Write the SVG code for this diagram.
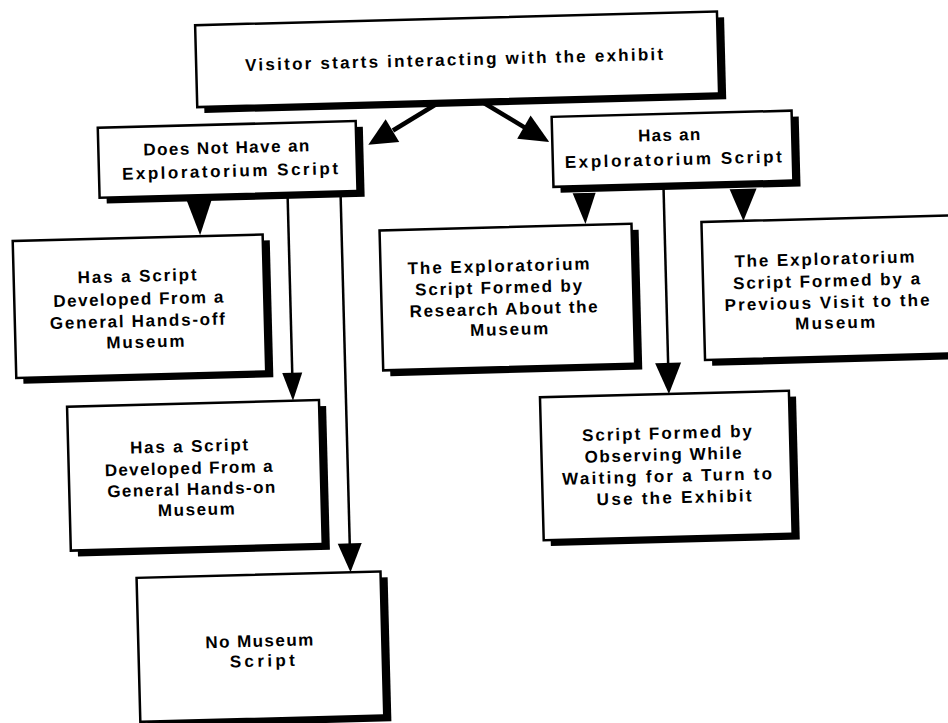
<svg xmlns="http://www.w3.org/2000/svg" width="948" height="723" viewBox="0 0 948 723">
<style>
.sh{fill:#000}
.bx{fill:#fff;stroke:#000;stroke-width:2.5}
.t{font-family:"Liberation Sans",Arial,sans-serif;font-weight:bold;font-size:17px;fill:#000}
.ln{stroke:#000;stroke-width:2.5;fill:none}
.dl{stroke-width:4.5}
.ah{fill:#000}
</style>
<rect x="0" y="0" width="948" height="723" fill="#fff"/>
<g transform="rotate(-1.5 474 361)">
<g id="connectors">
<line class="ln dl" x1="447" y1="101" x2="399" y2="128.5"/>
<polygon class="ah" points="374,142 392,117 405,140"/>
<line class="ln dl" x1="487" y1="101" x2="531" y2="129"/>
<polygon class="ah" points="555,144 523,140 537,117"/>
<polygon class="ah" points="191,193 216,193 203.5,228"/>
<line class="ln" x1="292" y1="190" x2="292" y2="370"/>
<polygon class="ah" points="282,368 302,368 292,396"/>
<line class="ln" x1="345" y1="190" x2="345" y2="542"/>
<polygon class="ah" points="333,540 357,540 345,569"/>
<polygon class="ah" points="577,196 600,196 589,227"/>
<line class="ln" x1="668" y1="191" x2="668" y2="370"/>
<polygon class="ah" points="655,368 681,368 668,399"/>
<polygon class="ah" points="734,196 761,196 747,228"/>
</g>
<g id="n-visitor">
<rect class="sh" x="211" y="24" width="522" height="82"/>
<rect class="bx" x="204" y="18" width="522" height="82"/>
<text class="t" x="253" y="65" textLength="418" lengthAdjust="spacing">Visitor starts interacting with the exhibit</text>
</g>
<g id="n-no-script">
<rect class="sh" x="111" y="124" width="258" height="70"/>
<rect class="bx" x="104" y="118" width="258" height="70"/>
<text class="t" x="149" y="147" textLength="166" lengthAdjust="spacing">Does Not Have an</text>
<text class="t" x="127" y="170.5" textLength="216" lengthAdjust="spacing">Exploratorium Script</text>
</g>
<g id="n-has-script">
<rect class="sh" x="565" y="125" width="240" height="70"/>
<rect class="bx" x="558" y="119" width="240" height="70"/>
<text class="t" x="644" y="146" textLength="62" lengthAdjust="spacing">Has an</text>
<text class="t" x="570" y="170.5" textLength="217" lengthAdjust="spacing">Exploratorium Script</text>
</g>
<g id="n-hands-off">
<rect class="sh" x="23" y="235" width="250" height="137"/>
<rect class="bx" x="16" y="229" width="250" height="137"/>
<text class="t" x="80" y="273" textLength="119" lengthAdjust="spacing">Has a Script</text>
<text class="t" x="55" y="296" textLength="170" lengthAdjust="spacing">Developed From a</text>
<text class="t" x="51" y="318" textLength="175" lengthAdjust="spacing">General Hands-off</text>
<text class="t" x="107" y="339" textLength="78" lengthAdjust="spacing">Museum</text>
</g>
<g id="n-hands-on">
<rect class="sh" x="73" y="402" width="252" height="144"/>
<rect class="bx" x="66" y="396" width="252" height="144"/>
<text class="t" x="128" y="444.5" textLength="118" lengthAdjust="spacing">Has a Script</text>
<text class="t" x="102" y="466.5" textLength="168" lengthAdjust="spacing">Developed From a</text>
<text class="t" x="104" y="487.5" textLength="168" lengthAdjust="spacing">General Hands-on</text>
<text class="t" x="154" y="508" textLength="77" lengthAdjust="spacing">Museum</text>
</g>
<g id="n-no-museum">
<rect class="sh" x="138" y="575" width="244" height="144"/>
<rect class="bx" x="131" y="569" width="244" height="144"/>
<text class="t" x="198" y="641" textLength="108" lengthAdjust="spacing">No Museum</text>
<text class="t" x="222" y="661" textLength="65" lengthAdjust="spacing">Script</text>
</g>
<g id="n-research">
<rect class="sh" x="390" y="234" width="252" height="140"/>
<rect class="bx" x="383" y="228" width="252" height="140"/>
<text class="t" x="410" y="272.5" textLength="182" lengthAdjust="spacing">The Exploratorium</text>
<text class="t" x="417" y="294" textLength="167" lengthAdjust="spacing">Script Formed by</text>
<text class="t" x="411" y="315.5" textLength="188" lengthAdjust="spacing">Research About the</text>
<text class="t" x="471" y="336" textLength="78" lengthAdjust="spacing">Museum</text>
</g>
<g id="n-previous">
<rect class="sh" x="712" y="234" width="260" height="138"/>
<rect class="bx" x="705" y="228" width="260" height="138"/>
<text class="t" x="737" y="274" textLength="180" lengthAdjust="spacing">The Exploratorium</text>
<text class="t" x="735" y="296" textLength="187" lengthAdjust="spacing">Script Formed by a</text>
<text class="t" x="726" y="317.5" textLength="205" lengthAdjust="spacing">Previous Visit to the</text>
<text class="t" x="796" y="338" textLength="80" lengthAdjust="spacing">Museum</text>
</g>
<g id="n-observing">
<rect class="sh" x="546" y="405" width="249" height="143"/>
<rect class="bx" x="539" y="399" width="249" height="143"/>
<text class="t" x="580" y="444" textLength="170" lengthAdjust="spacing">Script Formed by</text>
<text class="t" x="582" y="465.5" textLength="157" lengthAdjust="spacing">Observing While</text>
<text class="t" x="559" y="487" textLength="210" lengthAdjust="spacing">Waiting for a Turn to</text>
<text class="t" x="593" y="508.5" textLength="155" lengthAdjust="spacing">Use the Exhibit</text>
</g>
</g>
</svg>
